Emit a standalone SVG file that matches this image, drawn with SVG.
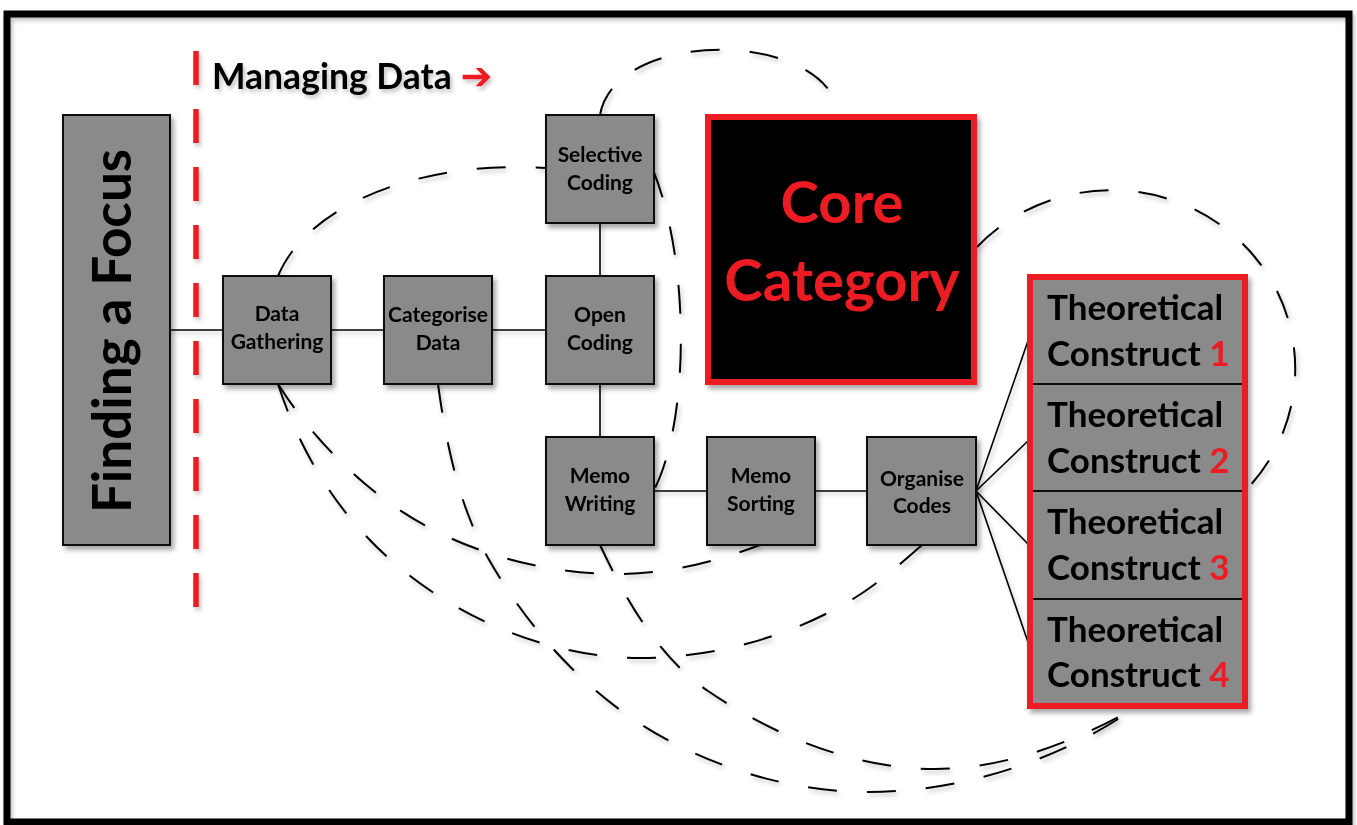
<svg xmlns="http://www.w3.org/2000/svg" width="1357" height="825" viewBox="0 0 1357 825">
<defs>
<filter id="sh" x="-20%" y="-20%" width="150%" height="150%">
<feDropShadow dx="3" dy="4" stdDeviation="2.5" flood-color="#000" flood-opacity="0.35"/>
</filter>
<filter id="lsh" filterUnits="userSpaceOnUse" x="0" y="0" width="1357" height="825">
<feDropShadow dx="2" dy="3" stdDeviation="2" flood-color="#000" flood-opacity="0.25"/>
</filter>
<style>
.box{fill:#8a8a8a;stroke:#111;stroke-width:2}
.t{font-family:Lato,"Liberation Sans",sans-serif;font-weight:700;fill:#000;text-anchor:middle}
.s{font-size:21px}
.tc{font-family:Lato,"Liberation Sans",sans-serif;font-weight:700;fill:#000;font-size:35px}
.red{fill:#ed1c24}
.c{stroke:#000;stroke-width:1.6;fill:none}
.d{stroke:#000;stroke-width:2;fill:none;stroke-dasharray:29 30}
</style>
</defs>
<rect width="1357" height="825" fill="#fff"/>
<rect x="7" y="14" width="1342" height="808" fill="none" stroke="#000" stroke-width="7" filter="url(#lsh)"/>

<g id="managing-data" filter="url(#lsh)">
<line x1="196" y1="51" x2="196" y2="610" stroke="#ed1c24" stroke-width="5.5" stroke-dasharray="34 24"/>
<text x="212" y="89" font-family="Lato, 'Liberation Sans', sans-serif" font-weight="700" font-size="35.5" fill="#000">Managing Data <tspan fill="#ed1c24" font-family="'DejaVu Sans', sans-serif" font-weight="700" font-size="38">➔</tspan></text>
</g>

<g id="connectors" filter="url(#lsh)">
<line class="c" x1="170" y1="330" x2="223" y2="330"/>
<line class="c" x1="331" y1="330" x2="384" y2="330"/>
<line class="c" x1="492" y1="330" x2="546" y2="330"/>
<line class="c" x1="600" y1="223" x2="600" y2="276"/>
<line class="c" x1="600" y1="384" x2="600" y2="437"/>
<line class="c" x1="654" y1="491" x2="707" y2="491"/>
<line class="c" x1="815" y1="491" x2="867" y2="491"/>
<line class="c" x1="976" y1="491" x2="1029" y2="338"/>
<line class="c" x1="976" y1="491" x2="1029" y2="440"/>
<line class="c" x1="976" y1="491" x2="1029" y2="545"/>
<line class="c" x1="976" y1="491" x2="1029" y2="645"/>
<path class="d" d="M600,115 C615,28 825,28 840,115"/>
<path class="d" d="M278,276 C310,200 430,160 546,168"/>
<path class="d" d="M653,170 C690,260 690,420 654,490"/>
<path class="d" d="M977,247 A170,165 0 1 1 1246,490"/>
<path class="d" d="M278,384 C296,440 326,494 366,536 C434,609 540,658 640,658 C714,658 790,637 853,599 C878,584 900,564 922,545"/>
<path class="d" d="M278,384 C309,433 351,477 398,509 C462,552 542,574 619,574 C667,574 715,562 760,545"/>
<path class="d" d="M438,384 C446,443 459,506 488,558 C525,623 576,682 639,723 C705,766 789,792 868,792 C961,792 1058,761 1135,708"/>
<path class="d" d="M600,545 C626,600 658,657 708,691 C774,736 855,769 935,769 C1005,769 1074,742 1135,708"/>
</g>

<g id="finding-a-focus" filter="url(#sh)">
<rect class="box" x="63" y="115" width="107" height="430"/>
<text class="t" font-size="53" transform="translate(131,331) rotate(-90)">Finding a Focus</text>
</g>
<g id="data-gathering" filter="url(#sh)">
<rect class="box" x="223" y="276" width="108" height="108"/>
<text class="t s" x="277" y="321">Data</text><text class="t s" x="277" y="349">Gathering</text>
</g>
<g id="categorise-data" filter="url(#sh)">
<rect class="box" x="384" y="276" width="108" height="108"/>
<text class="t s" x="438" y="322">Categorise</text><text class="t s" x="438" y="350">Data</text>
</g>
<g id="open-coding" filter="url(#sh)">
<rect class="box" x="546" y="276" width="108" height="108"/>
<text class="t s" x="600" y="322">Open</text><text class="t s" x="600" y="350">Coding</text>
</g>
<g id="selective-coding" filter="url(#sh)">
<rect class="box" x="546" y="115" width="108" height="108"/>
<text class="t s" x="600" y="162">Selective</text><text class="t s" x="600" y="190">Coding</text>
</g>
<g id="memo-writing" filter="url(#sh)">
<rect class="box" x="546" y="437" width="108" height="108"/>
<text class="t s" x="600" y="483">Memo</text><text class="t s" x="600" y="511">Writing</text>
</g>
<g id="memo-sorting" filter="url(#sh)">
<rect class="box" x="707" y="437" width="108" height="108"/>
<text class="t s" x="761" y="483">Memo</text><text class="t s" x="761" y="511">Sorting</text>
</g>
<g id="organise-codes" filter="url(#sh)">
<rect class="box" x="867" y="437" width="109" height="108"/>
<text class="t s" x="922" y="486">Organise</text><text class="t s" x="922" y="513">Codes</text>
</g>
<g id="core-category" filter="url(#sh)">
<rect x="708" y="117" width="266" height="265" fill="#000" stroke="#ed1c24" stroke-width="6"/>
<text class="t red" font-size="58" x="842" y="223">Core</text>
<text class="t red" font-size="58" x="842" y="301">Category</text>
</g>
<g id="theoretical-constructs" filter="url(#sh)">
<rect x="1030" y="277" width="215" height="429" fill="#8a8a8a" stroke="#ed1c24" stroke-width="6"/>
<line x1="1033" y1="384" x2="1242" y2="384" stroke="#111" stroke-width="2"/>
<line x1="1033" y1="491" x2="1242" y2="491" stroke="#111" stroke-width="2"/>
<line x1="1033" y1="599" x2="1242" y2="599" stroke="#111" stroke-width="2"/>
<text class="tc" x="1047" y="320">Theoretical</text>
<text class="tc" x="1047" y="366">Construct <tspan class="red">1</tspan></text>
<text class="tc" x="1047" y="427">Theoretical</text>
<text class="tc" x="1047" y="473">Construct <tspan class="red">2</tspan></text>
<text class="tc" x="1047" y="534">Theoretical</text>
<text class="tc" x="1047" y="580">Construct <tspan class="red">3</tspan></text>
<text class="tc" x="1047" y="642">Theoretical</text>
<text class="tc" x="1047" y="687">Construct <tspan class="red">4</tspan></text>
</g>
</svg>
